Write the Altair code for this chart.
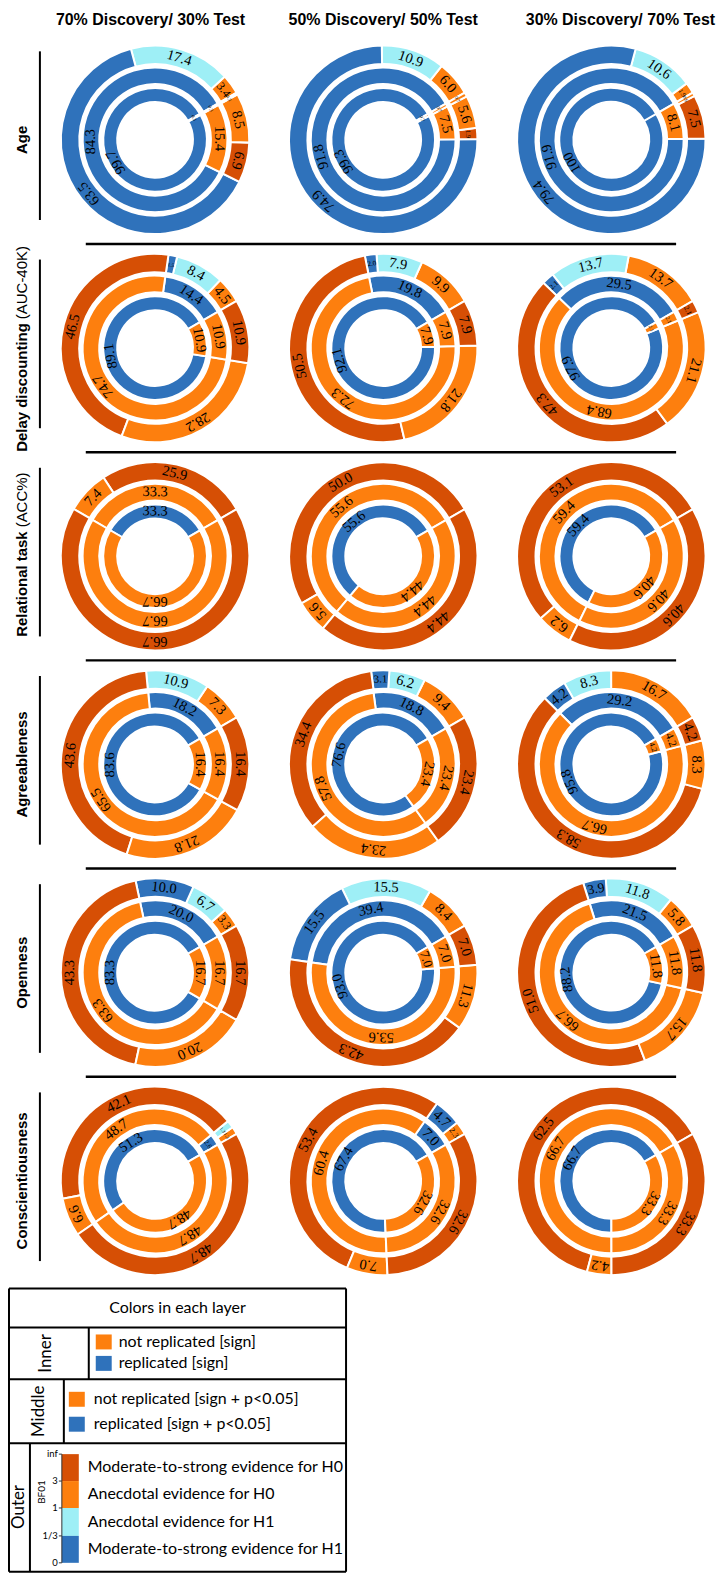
import altair as alt
import pandas as pd

# ---------------- data ----------------
ROWS = ["Age", "Delay discounting", "Relational task", "Agreeableness", "Openness", "Conscientiousness"]
ROW_NOTES = ["", "(AUC-40K)", "(ACC%)", "", "", ""]
COLUMNS = ["70% Discovery/ 30% Test", "50% Discovery/ 50% Test", "30% Discovery/ 70% Test"]

# inner ring: [replicated, not replicated]  (sign)
INNER = [
    [[99.7, 0.3], [99.3, 0.7], [100.0, 0.0]],
    [[89.1, 10.9], [92.1, 7.9], [97.9, 2.1]],
    [[33.3, 66.7], [55.6, 44.4], [59.4, 40.6]],
    [[83.6, 16.4], [76.6, 23.4], [95.8, 4.2]],
    [[83.3, 16.7], [93.0, 7.0], [88.2, 11.8]],
    [[51.3, 48.7], [67.4, 32.6], [66.7, 33.3]],
]
# middle ring: [replicated, not replicated (within sign-replicated), not replicated (sign not replicated)]
MIDDLE = [
    [[84.3, 15.4, 0.3], [91.8, 7.5, 0.7], [91.9, 8.1, 0.0]],
    [[14.4, 74.7, 10.9], [19.8, 72.3, 7.9], [29.5, 68.4, 2.1]],
    [[0.0, 33.3, 66.7], [0.0, 55.6, 44.4], [0.0, 59.4, 40.6]],
    [[18.2, 65.5, 16.4], [18.8, 57.8, 23.4], [29.2, 66.7, 4.2]],
    [[20.0, 63.3, 16.7], [39.4, 53.6, 7.0], [21.5, 66.7, 11.8]],
    [[2.6, 48.7, 48.7], [7.0, 60.4, 32.6], [0.0, 66.7, 33.3]],
]
# outer ring, per middle segment: [moderate H0, anecdotal H0, anecdotal H1, moderate H1]
OUTER = [
    [[[0, 3.4, 17.4, 63.5], [6.9, 8.5, 0, 0], [0, 0.3, 0, 0]],
     [[0, 6.0, 10.9, 74.9], [1.9, 5.6, 0, 0], [0, 0.7, 0, 0]],
     [[0, 1.9, 10.6, 79.4], [7.5, 0.6, 0, 0], [0, 0, 0, 0]]],
    [[[0, 4.5, 8.4, 1.5], [46.5, 28.2, 0, 0], [10.9, 0, 0, 0]],
     [[0, 9.9, 7.9, 2.0], [50.5, 21.8, 0, 0], [7.9, 0, 0, 0]],
     [[0, 13.7, 13.7, 2.1], [47.3, 21.1, 0, 0], [2.1, 0, 0, 0]]],
    [[[0, 0, 0, 0], [25.9, 7.4, 0, 0], [66.7, 0, 0, 0]],
     [[0, 0, 0, 0], [50.0, 5.6, 0, 0], [44.4, 0, 0, 0]],
     [[0, 0, 0, 0], [53.1, 6.2, 0, 0], [40.6, 0, 0, 0]]],
    [[[0, 7.3, 10.9, 0], [43.6, 21.8, 0, 0], [16.4, 0, 0, 0]],
     [[0, 9.4, 6.2, 3.1], [34.4, 23.4, 0, 0], [23.4, 0, 0, 0]],
     [[0, 16.7, 8.3, 4.2], [58.3, 8.3, 0, 0], [4.2, 0, 0, 0]]],
    [[[0, 3.3, 6.7, 10.0], [43.3, 20.0, 0, 0], [16.7, 0, 0, 0]],
     [[0, 8.4, 15.5, 15.5], [42.3, 11.3, 0, 0], [7.0, 0, 0, 0]],
     [[0, 5.8, 11.8, 3.9], [51.0, 15.7, 0, 0], [11.8, 0, 0, 0]]],
    [[[0, 1.3, 1.3, 0], [42.1, 6.6, 0, 0], [48.7, 0, 0, 0]],
     [[0, 2.3, 0, 4.7], [53.4, 7.0, 0, 0], [32.6, 0, 0, 0]],
     [[0, 0, 0, 0], [62.5, 4.2, 0, 0], [33.3, 0, 0, 0]]],
]

INNER_LEGEND = ["not replicated [sign]", "replicated [sign]"]
MIDDLE_LEGEND = ["not replicated [sign + p<0.05]", "replicated [sign + p<0.05]"]
OUTER_LEGEND = ["Moderate-to-strong evidence for H0", "Anecdotal evidence for H0",
                "Anecdotal evidence  for H1", "Moderate-to-strong evidence for H1"]
BF_TICKS = ["inf", "3", "1", "1/3", "0"]

# ---------------- style ----------------
BLUE, ORANGE, DORANGE, LBLUE = "#2f72bb", "#fd7f0e", "#d64f05", "#9eeff6"
CAT_DOMAIN = ["rep", "notrep", "modH0", "anecH0", "anecH1", "modH1"]
CAT_RANGE = [BLUE, ORANGE, DORANGE, ORANGE, LBLUE, BLUE]
SANS = "Liberation Sans"
SERIF = "Liberation Serif"
LEG_FONT = "Lato"

W, H = 708, 1281
COL0, COLSTEP = 147.5, 228.75
ROW0, ROWSTEP = 130.0, 208.8
START_DEG = 60  # first wedge starts 30 deg above 3 o'clock, wedges run counter-clockwise


def cx(px):
    return (px - COL0) / COLSTEP


def ry(px):
    return (px - ROW0) / ROWSTEP


# ---------------- build long table ----------------
recs = []
for r in range(6):
    for c in range(3):
        for k, v in enumerate(INNER[r][c]):
            recs.append(dict(row=r, col=c, ring="inner", order=k, cat=["rep", "notrep"][k], value=v))
        for k, v in enumerate(MIDDLE[r][c]):
            recs.append(dict(row=r, col=c, ring="middle", order=k, cat=["rep", "notrep", "notrep"][k], value=v))
        for g, grp in enumerate(OUTER[r][c]):
            for k, v in enumerate(grp):
                recs.append(dict(row=r, col=c, ring="outer", order=g * 4 + k,
                                 cat=["modH0", "anecH0", "anecH1", "modH1"][k], value=v))
df = pd.DataFrame(recs)
df["label"] = df["value"].map(lambda v: "100" if v == 100 else f"{v:.1f}")

xs = alt.Scale(domain=[cx(0), cx(W)], nice=False, zero=False)
ys = alt.Scale(domain=[ry(0), ry(H)], reverse=True, nice=False, zero=False)
ts = alt.Scale(domain=[0, 100], range=[START_DEG * 3.14159265 / 180,
                                       START_DEG * 3.14159265 / 180 - 2 * 3.14159265])
cs = alt.Scale(domain=CAT_DOMAIN, range=CAT_RANGE)

base = (
    alt.Chart(df)
    .transform_filter("datum.value > 0")
    .transform_window(cum="sum(value)", groupby=["row", "col", "ring"], sort=[alt.SortField("order")])
    .transform_joinaggregate(total="sum(value)", groupby=["row", "col", "ring"])
    .transform_calculate(
        c1="datum.cum / datum.total * 100",
        c0="(datum.cum - datum.value) / datum.total * 100",
    )
    .transform_calculate(
        mid="(datum.c0 + datum.c1) / 2",
        rm="datum.ring == 'outer' ? 85.25 : (datum.ring == 'middle' ? 64.3 : 45)",
    )
    .transform_calculate(
        ang=f"{START_DEG} - 3.6 * datum.mid",
        fs="clamp(0.66 * (datum.c1 - datum.c0) / 100 * 2 * PI * datum.rm, 5, 14.5)",
    )
)

RINGS = {"outer": (94.5, 76, 85.25), "middle": (72.6, 56, 64.3), "inner": (52, 38, 45)}
layers = []
for ring, (ro, ri, rm) in RINGS.items():
    sub = base.transform_filter(f"datum.ring == '{ring}'")
    layers.append(
        sub.mark_arc(radius=ro, radius2=ri, stroke="white", strokeWidth=2).encode(
            x=alt.X("col:Q", scale=xs, axis=None),
            y=alt.Y("row:Q", scale=ys, axis=None),
            theta=alt.Theta("c1:Q", scale=ts, stack=False),
            theta2="c0:Q",
            color=alt.Color("cat:N", scale=cs, legend=None),
        )
    )
for ring, (ro, ri, rm) in RINGS.items():
    sub = base.transform_filter(f"datum.ring == '{ring}'")
    layers.append(
        sub.mark_text(radius=rm, font=SERIF, align="center", baseline="middle", color="black").encode(
            x=alt.X("col:Q", scale=xs, axis=None),
            y=alt.Y("row:Q", scale=ys, axis=None),
            theta=alt.Theta("mid:Q", scale=ts, stack=False),
            text="label:N",
            angle=alt.Angle("ang:Q", scale=None),
            size=alt.Size("fs:Q", scale=None),
        )
    )

# separators and row bars
sep_df = pd.DataFrame({"y": [r + 0.5 for r in range(5)], "x0": cx(78), "x1": cx(670)})
layers.append(alt.Chart(sep_df).mark_rule(color="black", strokeWidth=2.5).encode(
    x=alt.X("x0:Q", scale=xs, axis=None), x2="x1:Q", y=alt.Y("y:Q", scale=ys, axis=None)))
bar_df = pd.DataFrame({"row": list(range(6))})
bar_df["y0"] = bar_df["row"] - 0.02 - 0.405
bar_df["y1"] = bar_df["row"] - 0.02 + 0.405
bar_df["x"] = cx(32)
layers.append(alt.Chart(bar_df).mark_rule(color="black", strokeWidth=2).encode(
    x=alt.X("x:Q", scale=xs, axis=None), y=alt.Y("y0:Q", scale=ys, axis=None), y2="y1:Q"))

# column titles
col_df = pd.DataFrame({"title": COLUMNS, "xc": [-0.02, 1.0, 2.04], "y": ry(10)})
layers.append(alt.Chart(col_df).mark_text(font=SANS, fontWeight="bold", fontSize=16, baseline="middle").encode(
    x=alt.X("xc:Q", scale=xs, axis=None), y=alt.Y("y:Q", scale=ys, axis=None), text="title:N"))

# row labels
rl = pd.DataFrame({"row": list(range(6)), "name": ROWS, "note": ROW_NOTES, "x": cx(14)})
plain = rl[rl["note"] == ""]
noted = rl[rl["note"] != ""]
layers.append(alt.Chart(plain).mark_text(font=SANS, fontWeight="bold", fontSize=15, angle=270,
                                          align="center", baseline="middle").encode(
    x=alt.X("x:Q", scale=xs, axis=None), y=alt.Y("row:Q", scale=ys, axis=None), text="name:N"))
layers.append(alt.Chart(noted).mark_text(font=SANS, fontWeight="bold", fontSize=15, angle=270,
                                          align="right", baseline="middle", dx=25).encode(
    x=alt.X("x:Q", scale=xs, axis=None), y=alt.Y("row:Q", scale=ys, axis=None), text="name:N"))
layers.append(alt.Chart(noted).mark_text(font=SANS, fontWeight="normal", fontSize=15, angle=270,
                                          align="left", baseline="middle", dx=29).encode(
    x=alt.X("x:Q", scale=xs, axis=None), y=alt.Y("row:Q", scale=ys, axis=None), text="note:N"))

main = alt.layer(*layers).properties(width=W, height=H)

# ---------------- legend table ----------------
LW, LH = 343, 287
lx = alt.Scale(domain=[0, LW], nice=False, zero=False)
ly = alt.Scale(domain=[0, LH], reverse=True, nice=False, zero=False)

lines = pd.DataFrame([
    (1, 1, 339, 1), (1, 285, 339, 285), (1, 1, 1, 285), (339, 1, 339, 285),
    (1, 40, 339, 40), (1, 92, 339, 92), (1, 156, 339, 156),
    (81, 40, 81, 92), (56, 92, 56, 156), (22, 156, 22, 285),
], columns=["x", "y", "x2", "y2"])
thin = pd.DataFrame([
    (54, 167, 54, 276), (51, 167, 54, 167), (51, 194, 54, 194), (51, 221, 54, 221),
    (51, 249, 54, 249), (51, 276, 54, 276),
], columns=["x", "y", "x2", "y2"])

rects = pd.DataFrame([
    (88, 104, 47, 62, ORANGE), (88, 104, 68.5, 83.5, BLUE),
    (61, 77, 104.5, 119.5, ORANGE), (61, 77, 129.5, 144.5, BLUE),
    (54, 71, 167, 194, DORANGE), (54, 71, 194, 221, ORANGE),
    (54, 71, 221, 249, LBLUE), (54, 71, 249, 276, BLUE),
], columns=["x", "x2", "y", "y2", "color"])

items = pd.DataFrame(
    [(111, 54.5, INNER_LEGEND[0]), (111, 76, INNER_LEGEND[1])]
    + [(86, 112, MIDDLE_LEGEND[0]), (86, 137, MIDDLE_LEGEND[1])]
    + [(80, y, t) for y, t in zip([180, 207, 235, 262], OUTER_LEGEND)],
    columns=["x", "y", "text"])
ticks = pd.DataFrame({"x": 50, "y": [167, 194, 221, 249, 276], "text": BF_TICKS})
sections = pd.DataFrame([(38, 66, "Inner", 17), (31, 124, "Middle", 17), (11, 220, "Outer", 17),
                         (34, 205, "BF01", 10)], columns=["x", "y", "text", "size"])
header = pd.DataFrame([(170, 20, "Colors in each layer")], columns=["x", "y", "text"])


def enc_xy():
    return dict(x=alt.X("x:Q", scale=lx, axis=None), y=alt.Y("y:Q", scale=ly, axis=None))


legend = alt.layer(
    alt.Chart(rects).mark_rect().encode(**enc_xy(), x2="x2:Q", y2="y2:Q",
                                        color=alt.Color("color:N", scale=None)),
    alt.Chart(lines).mark_rule(color="black", strokeWidth=2).encode(**enc_xy(), x2="x2:Q", y2="y2:Q"),
    alt.Chart(thin).mark_rule(color="#333333", strokeWidth=1).encode(**enc_xy(), x2="x2:Q", y2="y2:Q"),
    alt.Chart(header).mark_text(font=LEG_FONT, fontSize=16, align="center", baseline="middle").encode(
        **enc_xy(), text="text:N"),
    alt.Chart(items).mark_text(font=LEG_FONT, fontSize=16, align="left", baseline="middle").encode(
        **enc_xy(), text="text:N"),
    alt.Chart(ticks).mark_text(font=LEG_FONT, fontSize=9.5, align="right", baseline="middle").encode(
        **enc_xy(), text="text:N"),
    alt.Chart(sections).mark_text(font=LEG_FONT, angle=270, align="center", baseline="middle").encode(
        **enc_xy(), text="text:N", size=alt.Size("size:Q", scale=None)),
).properties(width=LW, height=LH)

chart = (
    alt.vconcat(main, legend, spacing=0, bounds="flush")
    .properties(padding=0)
    .configure_view(strokeOpacity=0)
)
chart.save("out.html", embed_options={"renderer": "svg", "actions": False})
